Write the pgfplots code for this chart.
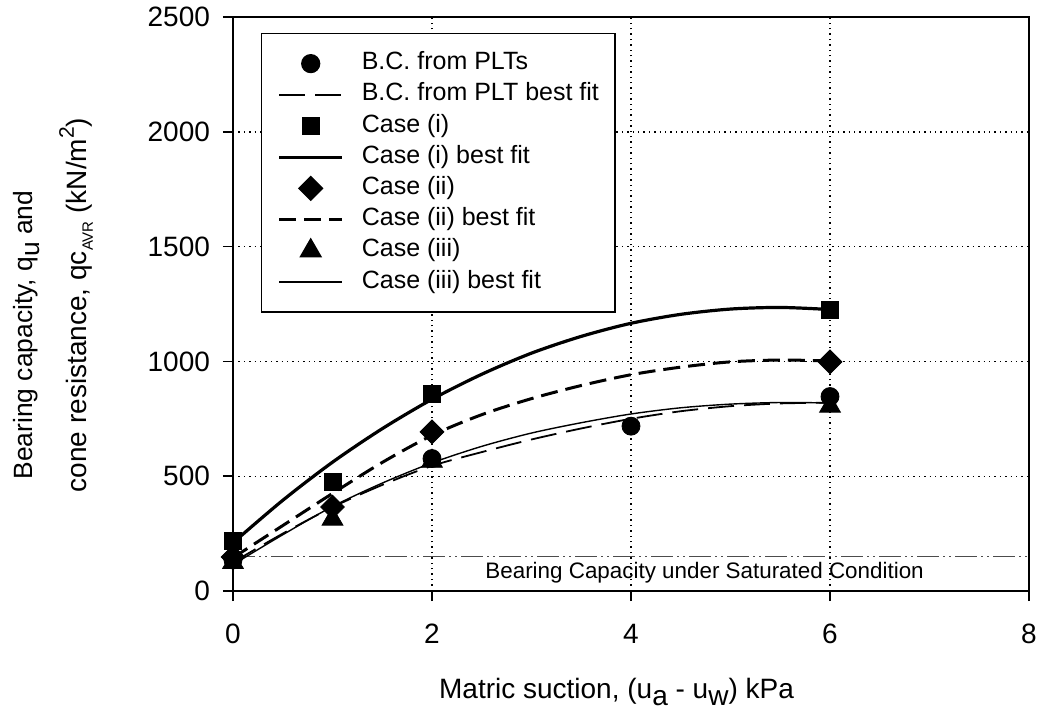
\documentclass[border=0pt]{standalone}
\usepackage{pgfplots}
\pgfplotsset{compat=1.18}
\usepackage{fontspec}
\setmainfont{Liberation Sans}
\newcommand\lsub[1]{\raisebox{-3.5pt}{#1}}
\begin{document}
\begin{tikzpicture}
\begin{axis}[
  at={(0pt,0pt)}, anchor=south west,
  scale only axis, width=398pt, height=287pt,
  xmin=0, xmax=8, ymin=0, ymax=2500,
  xtick={0,2,4,6,8}, ytick={0,500,1000,1500,2000,2500},
  tick pos=left, tick align=outside,
  major tick length=5pt,
  every tick/.style={black, line width=0.8pt},
  axis line style={line width=1.2pt},
  /pgf/number format/assume math mode=true,
  /pgf/number format/1000 sep={},
  tick label style={font=\fontsize{14}{14}\selectfont},
  yticklabel style={xshift=-3pt},
  xticklabel style={yshift=-8pt},
  grid=major,
  major grid style={black, line width=0.7pt, dash pattern=on 0.7pt off 2pt},
  legend style={at={(0.0352,0.9721)}, anchor=north west, draw=black, line width=0.6pt,
    font=\fontsize{12.5}{12.5}\selectfont, inner xsep=8pt, inner ysep=9pt,
    nodes={inner sep=0pt, text height=9pt, text depth=3pt},
    row sep=3.6pt, column sep=9pt},
  legend cell align=left,
  legend image code/.code={\draw[mark repeat=2,mark phase=2,#1] plot coordinates {(0pt,0pt) (15.75pt,0pt) (31.5pt,0pt)};},
  clip=false,
]
% saturated line
\addplot[forget plot, gray!60!black, line width=0.6pt, dash pattern=on 11pt off 2pt on 1pt off 2pt on 1pt off 2pt] coordinates {(0,150) (8,150)};
% PLT
\addplot[only marks, mark=*, mark size=4.5pt, black] coordinates {(0,135) (2,577) (4,718) (6,847)};
\addlegendentry{B.C. from PLTs}
\addplot[black, line width=0.9pt, dash pattern=on 13pt off 5pt, smooth] coordinates {
(0,125) (0.5,250) (1,365) (1.5,462) (2,545) (2.5,605) (3,660) (3.5,708) (4,750) (4.5,783) (5,805) (5.5,817) (6,820)};
\addlegendentry{B.C. from PLT best fit}
% Case i
\addplot[only marks, mark=square*, mark size=4.25pt, black] coordinates {(0,220) (1,475) (2,857) (6,1226)};
\addlegendentry{Case (i)}
\addplot[black, line width=1.6pt, smooth] coordinates {
(0,210) (0.5,395) (1,561) (1.5,707) (2,835) (2.5,944) (3,1036) (3.5,1109) (4,1166) (4.5,1205) (5,1228) (5.5,1235) (6,1226)};
\addlegendentry{Case (i) best fit}
% Case ii
\addplot[only marks, mark=square*, mark size=4.2pt, mark options={rotate=45}, black] coordinates {(0,148) (1,366) (2,693) (6,998)};
\addlegendentry{Case (ii)}
\addplot[black, line width=1.5pt, dash pattern=on 8.5pt off 4pt, smooth] coordinates {
(0,145) (0.5,285) (1,425) (1.5,560) (2,678) (2.5,768) (3,838) (3.5,895) (4,942) (4.5,975) (5,998) (5.5,1006) (6,1002)};
\addlegendentry{Case (ii) best fit}
% Case iii
\addplot[only marks, mark=triangle*, mark size=6pt, black] coordinates {(0,124) (1,313) (2,565) (6,805)};
\addlegendentry{Case (iii)}
\addplot[black, line width=0.7pt, smooth] coordinates {
(0,115) (0.5,245) (1,368) (1.5,470) (2,558) (2.5,630) (3,688) (3.5,733) (4,771) (4.5,798) (5,814) (5.5,821) (6,819)};
\addlegendentry{Case (iii) best fit}
\node[anchor=base west, font=\fontsize{11.2}{11.2}\selectfont, inner sep=0pt] at (axis cs:2.533,55) {Bearing Capacity under Saturated Condition};
\end{axis}
\node[anchor=base, font=\fontsize{14}{14}\selectfont, inner sep=0pt] at (191.75pt,-53.5pt) {Matric suction, (u\lsub{a} - u\lsub{w}) kPa};
\node[anchor=base, rotate=90, font=\fontsize{13.2}{13.2}\selectfont, inner sep=0pt] at (-100pt,128pt) {Bearing capacity, q\lsub{u} and};
\node[anchor=base, rotate=90, font=\fontsize{14}{14}\selectfont, inner sep=0pt] at (-73pt,143pt) {cone resistance, qc\raisebox{-3pt}{\fontsize{7.5}{7.5}\selectfont AVR}\ (kN/m\raisebox{6.5pt}{\fontsize{10.5}{10.5}\selectfont 2})};
\pgfresetboundingbox
\path[use as bounding box] (-116.5pt,-59pt) rectangle (402pt,295.5pt);
\end{tikzpicture}
\end{document}
